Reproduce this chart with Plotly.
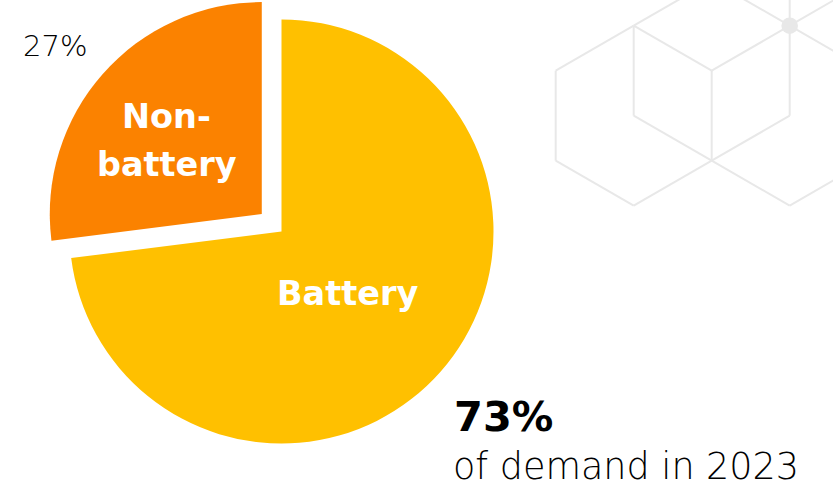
import math
import plotly.graph_objects as go

# Share of demand by segment, 2023
categories = ["Battery", "Non-battery"]
shares = [73, 27]
year = 2023
colors = ["#FFC000", "#FB8200"]

W, H = 833, 487
FONT = "DejaVu Sans"

# Pie geometry in pixels; the non-battery wedge is pulled out along its bisector
cx, cy, r = 281.5, 231.5, 212.0
pull = 0.124
total = sum(shares)


def px_x(x):
    return x / W


def px_y(y):
    return 1 - y / H


def domain(cx_, cy_, r_):
    return dict(x=[px_x(cx_ - r_), px_x(cx_ + r_)],
                y=[px_y(cy_ + r_), px_y(cy_ - r_)])


def bisector(i):
    # clockwise angle from 12 o'clock, converted to a screen-space unit vector
    start = 360 * sum(shares[:i]) / total
    mid = math.radians(start + 180 * shares[i] / total)
    return math.sin(mid), -math.cos(mid)


dx, dy = bisector(1)
cx2, cy2 = cx + dx * pull * r, cy + dy * pull * r

fig = go.Figure()
clear = "rgba(0,0,0,0)"
fig.add_trace(go.Pie(
    labels=categories, values=shares, sort=False, direction="clockwise",
    rotation=0, textinfo="none", hoverinfo="label+percent",
    marker=dict(colors=[colors[0], clear], line=dict(width=0)),
    domain=domain(cx, cy, r), showlegend=False,
))
fig.add_trace(go.Pie(
    labels=categories, values=shares, sort=False, direction="clockwise",
    rotation=0, textinfo="none", hoverinfo="label+percent",
    marker=dict(colors=[clear, colors[1]], line=dict(width=0)),
    domain=domain(cx2, cy2, r), showlegend=False,
))

annotations = []

# Label inside the battery wedge
bx, by = bisector(0)
annotations.append(dict(
    x=px_x(cx + bx * 0.43 * r - 2), y=px_y(cy + by * 0.43 * r + 2),
    text=categories[0], showarrow=False, xanchor="center", yanchor="middle",
    font=dict(family=FONT, size=33.5, color="white", weight="bold"),
))

# Two-line label inside the pulled non-battery wedge
nx, ny = cx2 + dx * 0.58 * r - 3, cy2 + dy * 0.58 * r + 8
head, tail = categories[1].split("-", 1)
for text, off in [(head + "-", -24), (tail, 24)]:
    annotations.append(dict(
        x=px_x(nx), y=px_y(ny + off), text=text, showarrow=False,
        xanchor="center", yanchor="middle",
        font=dict(family=FONT, size=33.5, color="white", weight="bold"),
    ))

# Value callouts
annotations.append(dict(
    x=px_x(21), y=px_y(46), text=f"{shares[1]}%", showarrow=False,
    xanchor="left", yanchor="middle",
    font=dict(family=FONT, size=29, color="#000000", weight=200),
))
annotations.append(dict(
    x=px_x(452), y=px_y(416), text=f"<b>{shares[0]}%</b>", showarrow=False,
    xanchor="left", yanchor="middle",
    font=dict(family=FONT, size=41.5, color="#000000"),
))
annotations.append(dict(
    x=px_x(451), y=px_y(466), text=f"of demand in {year}", showarrow=False,
    xanchor="left", yanchor="middle",
    font=dict(family=FONT, size=36.5, color="#000000", weight=200),
))

# Decorative hexagonal line pattern, top right
hx0, hy0, hw, hh = 633.7, 115.7, 78.0, 45.0
edges = [
    ((0, -2), (-1, -1)), ((-1, -1), (-1, 1)), ((-1, 1), (0, 2)),
    ((0, 2), (1, 1)), ((1, 1), (1, -1)), ((1, -1), (0, -2)),
    ((0, -2), (0, 0)), ((0, 0), (1, 1)), ((1, -1), (2, -2)),
    ((2, -2), (2, 0)), ((2, 0), (1, 1)), ((1, 1), (2, 2)),
    ((2, 2), (3, 1)), ((2, -2), (3, -1)), ((2, -2), (3, -3)),
    ((2, -2), (2, -4)), ((0, -2), (1, -3)), ((1, -3), (2, -2)),
]
line_col = "#E8E8E8"
shapes = []
for (i0, j0), (i1, j1) in edges:
    shapes.append(dict(
        type="line", xref="paper", yref="paper", layer="below",
        x0=px_x(hx0 + i0 * hw), y0=px_y(hy0 + j0 * hh),
        x1=px_x(hx0 + i1 * hw), y1=px_y(hy0 + j1 * hh),
        line=dict(color=line_col, width=2),
    ))
dot_x, dot_y, dot_r = hx0 + 2 * hw, hy0 - 2 * hh, 8.3
shapes.append(dict(
    type="circle", xref="paper", yref="paper", layer="below",
    x0=px_x(dot_x - dot_r), x1=px_x(dot_x + dot_r),
    y0=px_y(dot_y + dot_r), y1=px_y(dot_y - dot_r),
    fillcolor=line_col, line=dict(width=0),
))

fig.update_layout(
    width=W, height=H, margin=dict(l=0, r=0, t=0, b=0),
    paper_bgcolor="white", plot_bgcolor="white",
    showlegend=False, annotations=annotations, shapes=shapes,
)

fig.write_html("out.html")
